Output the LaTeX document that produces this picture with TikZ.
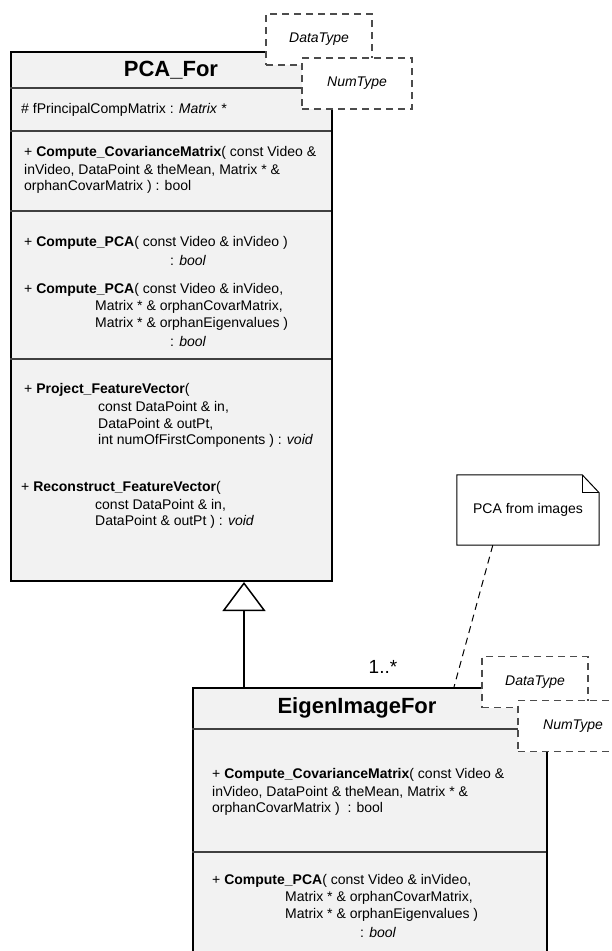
\documentclass[tikz,border=0pt]{standalone}
\usepackage{fontspec}
\setmainfont{Liberation Sans}
\usetikzlibrary{arrows.meta,calc}
\begin{document}
\begin{tikzpicture}[x=1pt,y=-1pt,
  classbox/.style={draw=black, line width=2pt, fill=white!95!black, rectangle, inner sep=0pt, anchor=north west},
  sepline/.style={draw=black!75, line width=1.3pt},
  tmpl/.style={draw=black!70, dash pattern=on 7pt off 5pt, line width=1.3pt, fill=white, minimum height=51pt, inner sep=0pt, font=\itshape\fontsize{14}{16}\selectfont},
  txt/.style={anchor=west, inner sep=0pt, font=\fontsize{14}{16}\selectfont},
  ctitle/.style={inner sep=0pt, font=\bfseries\fontsize{22}{24}\selectfont},
  notelink/.style={draw=black, dash pattern=on 7pt off 5pt, line width=1pt},
  inherit/.style={draw=black, line width=2pt, -{Triangle[open, length=29pt, width=43pt, line width=1.5pt]}}
]
\useasboundingbox (0,0) rectangle (612,951);
\clip (0,0) rectangle (612,951);

% ---------- PCA_For class ----------
\node[classbox, minimum width=321pt, minimum height=529pt] (pca) at (10,51) {};
\draw[sepline] (10,88) -- (331,88);
\draw[sepline] (10,131) -- (331,131);
\draw[sepline] (10,211) -- (331,211);
\draw[sepline] (10,359) -- (331,359);

\node[ctitle] (pcat) at (171,70) {PCA\_For};
\node[txt] (pa) at (21,110) {\# fPrincipalCompMatrix : \textit{Matrix *}};
\node[txt] (pc1) at (24,153) {+ \textbf{Compute\_CovarianceMatrix}( const Video \&};
\node[txt] (pc2) at (24,170) {inVideo, DataPoint \& theMean, Matrix * \&};
\node[txt] (pc3) at (24,187) {orphanCovarMatrix ) : bool};
\node[txt] (pp1) at (24,243) {+ \textbf{Compute\_PCA}( const Video \& inVideo )};
\node[txt] (pp2) at (170,260) {: \textit{bool}};
\node[txt] (pq1) at (24,290) {+ \textbf{Compute\_PCA}( const Video \& inVideo,};
\node[txt] (pq2) at (95,307) {Matrix * \& orphanCovarMatrix,};
\node[txt] (pq3) at (95,324) {Matrix * \& orphanEigenvalues )};
\node[txt] (pq4) at (170,341) {: \textit{bool}};
\node[txt] (pr1) at (24,390) {+ \textbf{Project\_FeatureVector}(};
\node[txt] (pr2) at (98,407) {const DataPoint \& in,};
\node[txt] (pr3) at (98,424) {DataPoint \& outPt,};
\node[txt] (pr4) at (98,441) {int numOfFirstComponents ) : \textit{void}};
\node[txt] (ps1) at (21,488) {+ \textbf{Reconstruct\_FeatureVector}(};
\node[txt] (ps2) at (95,505) {const DataPoint \& in,};
\node[txt] (ps3) at (95,522) {DataPoint \& outPt ) : \textit{void}};

\node[tmpl, minimum width=106pt] (pdt) at (319,39.5) {DataType};
\node[tmpl, minimum width=110pt] (pnt) at (357,83.5) {NumType};

% ---------- EigenImageFor class ----------
\node[classbox, minimum width=354pt, minimum height=280pt] (eig) at (192,687) {};
\draw[sepline] (192,729) -- (546,729);
\draw[sepline] (192,852) -- (546,852);

\node[ctitle] (eigt) at (357,708) {EigenImageFor};
\node[txt] (ec1) at (212,775) {+ \textbf{Compute\_CovarianceMatrix}( const Video \&};
\node[txt] (ec2) at (212,792) {inVideo, DataPoint \& theMean, Matrix * \&};
\node[txt] (ec3) at (212,809) {orphanCovarMatrix ) \ : bool};
\node[txt] (ep1) at (212,881) {+ \textbf{Compute\_PCA}( const Video \& inVideo,};
\node[txt] (ep2) at (285,898) {Matrix * \& orphanCovarMatrix,};
\node[txt] (ep3) at (285,915) {Matrix * \& orphanEigenvalues )};
\node[txt] (ep4) at (360,932) {: \textit{bool}};

\node[tmpl, minimum width=106pt] (edt) at (535,682) {DataType};
\node[tmpl, minimum width=110pt] (ent) at (573,726) {NumType};

% ---------- generalization ----------
\coordinate (gx) at (244,0);
\draw[inherit] (eig.north -| gx) -- (pca.south -| gx);

\node[inner sep=0pt, font=\fontsize{19}{21}\selectfont] (mult) at (383,667) {1..*};

% ---------- note ----------
\node[minimum width=142pt, minimum height=70pt, inner sep=0pt, font=\fontsize{14}{16}\selectfont] (note) at (528,510) {PCA from images};
\draw[line width=1pt] (note.north west) -- ($(note.north east)+(-17pt,0pt)$) -- ($(note.north east)+(0pt,-18pt)$) -- (note.south east) -- (note.south west) -- cycle;
\draw[line width=1pt] ($(note.north east)+(-17pt,0pt)$) |- ($(note.north east)+(0pt,-18pt)$);
\draw[notelink] ($(note.south west)+(36pt,0pt)$) -- ($(eig.north west)+(262pt,0pt)$);
\end{tikzpicture}
\end{document}
